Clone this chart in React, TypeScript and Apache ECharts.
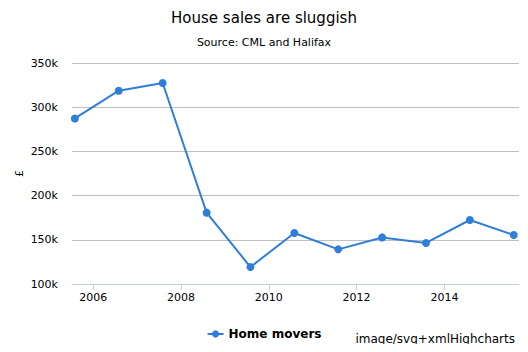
import React, { useEffect, useRef } from "react";
import * as echarts from "echarts";

const dates = [
  "2005-08-01", "2006-08-01", "2007-08-01", "2008-08-01", "2009-08-01",
  "2010-08-01", "2011-08-01", "2012-08-01", "2013-08-01", "2014-08-01", "2015-08-01",
];
const homeMovers = [287300, 318700, 327400, 180700, 119200, 157700, 139200, 152700, 146400, 172400, 155400];
const tickYears = [2006, 2008, 2010, 2012, 2014];
const seriesName = "Home movers";

const FONT = "DejaVu Sans, Verdana, sans-serif";

// convert an ISO date to a decimal year
function decimalYear(iso: string): number {
  const d = new Date(iso + "T00:00:00Z");
  const y = d.getUTCFullYear();
  const start = Date.UTC(y, 0, 1);
  const end = Date.UTC(y + 1, 0, 1);
  return y + (d.getTime() - start) / (end - start);
}

export default function App() {
  const ref = useRef<HTMLDivElement>(null);
  useEffect(() => {
    if (!ref.current) return;
    const chart = echarts.init(ref.current, undefined, { renderer: "svg" });
    chart.setOption({
      animation: false,
      backgroundColor: "#ffffff",
      textStyle: { fontFamily: FONT },
      title: {
        text: "House sales are sluggish",
        subtext: "Source: CML and Halifax",
        left: "center",
        top: 5,
        itemGap: 12,
        textStyle: { fontSize: 15, fontWeight: "normal", color: "#000000", fontFamily: FONT },
        subtextStyle: { fontSize: 11, color: "#000000", fontFamily: FONT },
      },
      grid: { left: 72, right: 9, top: 63, bottom: 68, containLabel: false },
      legend: {
        bottom: 7,
        left: "center",
        data: [seriesName],
        itemWidth: 16,
        itemHeight: 9,
        itemGap: 5,
        textStyle: { fontSize: 12, fontWeight: "bold", color: "#000000", fontFamily: FONT },
      },
      xAxis: {
        type: "value",
        min: 2005.515,
        max: 2015.70,
        axisLine: { show: true, onZero: false, lineStyle: { color: "#C0D0E0", width: 1 } },
        axisTick: {
          show: true,
          length: 6,
          lineStyle: { color: "#C0D0E0" },
          customValues: tickYears,
        },
        axisLabel: {
          customValues: tickYears,
          formatter: (v: number) => String(Math.round(v)),
          color: "#000000",
          fontSize: 11,
          margin: 8,
          fontFamily: FONT,
        },
        splitLine: { show: false },
      },
      yAxis: {
        type: "value",
        min: 100000,
        max: 350000,
        interval: 50000,
        axisLine: { show: false },
        axisTick: { show: false },
        axisLabel: {
          formatter: (v: number) => v / 1000 + "k",
          color: "#000000",
          fontSize: 11,
          margin: 14,
          fontFamily: FONT,
        },
        splitLine: { lineStyle: { color: "#C0C0C0", width: 1 } },
      },
      series: [
        {
          name: seriesName,
          type: "line",
          data: dates.map((d, i) => [decimalYear(d), homeMovers[i]]),
          color: "#2f7ed8",
          lineStyle: { width: 2, color: "#2f7ed8" },
          symbol: "circle",
          symbolSize: 8,
          showSymbol: true,
          itemStyle: { color: "#2f7ed8" },
        },
      ],
      graphic: [
        {
          type: "text",
          left: 14,
          top: 170,
          rotation: Math.PI / 2,
          style: {
            text: "£",
            fontSize: 11,
            fill: "#000000",
            fontFamily: FONT,
          },
        },
        {
          type: "text",
          right: 13,
          top: 333,
          style: {
            text: "image/svg+xmlHighcharts",
            fontSize: 12,
            fill: "#000000",
            fontFamily: FONT,
          },
        },
      ],
    });
    return () => chart.dispose();
  }, []);
  return <div ref={ref} style={{ width: 528, height: 352, margin: -8 }} />;
}
